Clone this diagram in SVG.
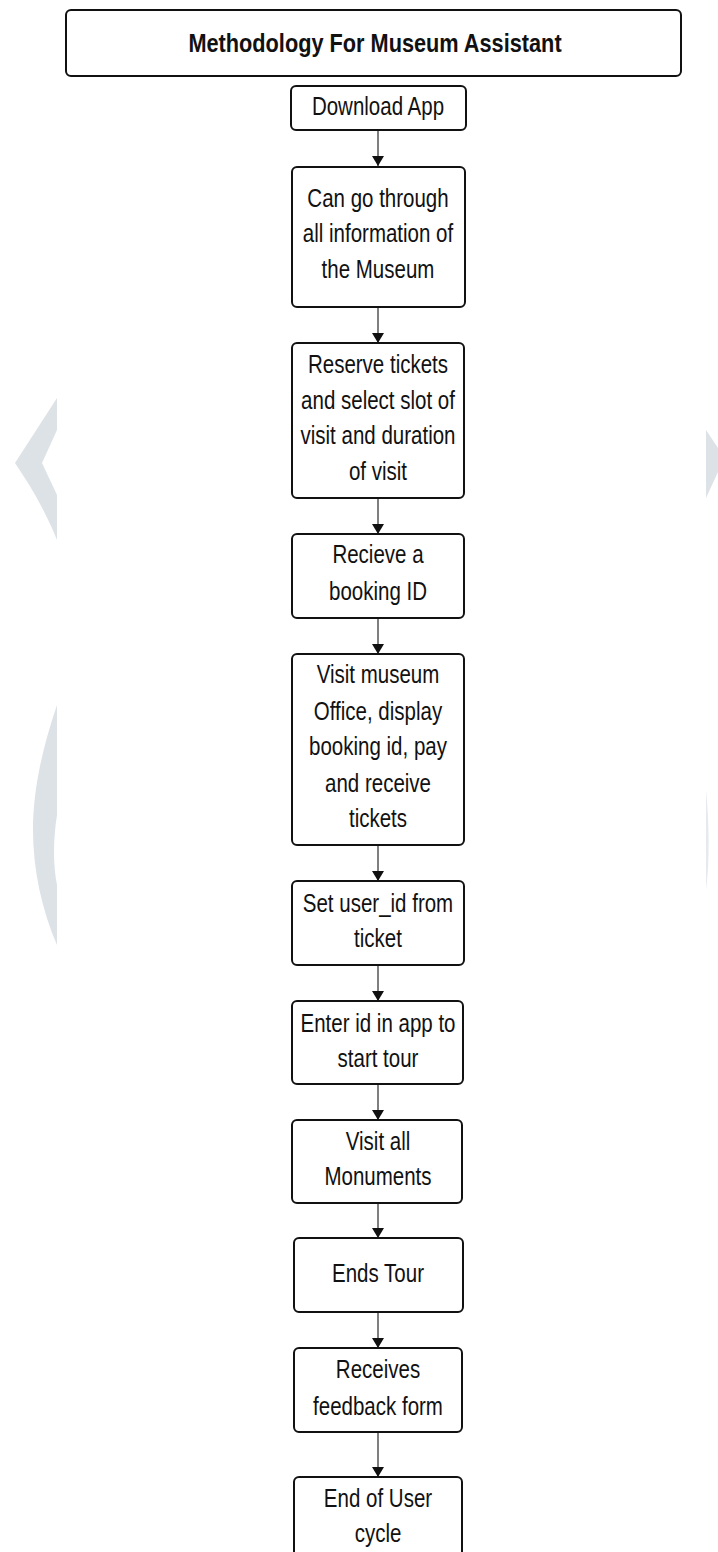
<svg xmlns="http://www.w3.org/2000/svg" width="718" height="1552" viewBox="0 0 718 1552">
<defs>
<style>
.box{fill:#ffffff;stroke:#111111;stroke-width:2}
.t{font-family:"Liberation Sans",Arial,sans-serif;font-size:25px;fill:#111111;text-anchor:middle}
.title{font-family:"Liberation Sans",Arial,sans-serif;font-size:26.5px;font-weight:bold;fill:#111111;text-anchor:middle}
.edge{stroke:#555555;stroke-width:1.5;fill:none}
.wm{fill:#dce2e6}
</style>
<marker id="ah" viewBox="0 0 10 16" refX="10" refY="8" markerWidth="11" markerHeight="16" markerUnits="userSpaceOnUse" orient="auto">
<path d="M0,2 L10,8 L0,14 Z" fill="#111111"/>
</marker>
</defs>
<rect width="718" height="1552" fill="#ffffff"/>
<g id="watermark">
<path class="wm" d="M57,398 L15,463 C30,485 45,510 57,540 L57,495 L42,463 L57,430 Z"/>
<path class="wm" d="M57,705 C40,755 33,795 33,830 C33,870 42,910 57,945 L57,885 C53,865 53,840 57,815 Z"/>
<path class="wm" d="M706,430 L718,448 L718,472 L706,498 Z"/>
<path d="M706,790 C709,820 710,860 706,890 Z" fill="#e6eaed"/>
</g>
<g id="connectors">
<line class="edge" x1="378" y1="130" x2="378" y2="166" marker-end="url(#ah)"/>
<line class="edge" x1="378" y1="307" x2="378" y2="343" marker-end="url(#ah)"/>
<line class="edge" x1="378" y1="498" x2="378" y2="534" marker-end="url(#ah)"/>
<line class="edge" x1="378" y1="618" x2="378" y2="654" marker-end="url(#ah)"/>
<line class="edge" x1="378" y1="845" x2="378" y2="881" marker-end="url(#ah)"/>
<line class="edge" x1="378" y1="965" x2="378" y2="1001" marker-end="url(#ah)"/>
<line class="edge" x1="378" y1="1084" x2="378" y2="1120" marker-end="url(#ah)"/>
<line class="edge" x1="378" y1="1203" x2="378" y2="1238" marker-end="url(#ah)"/>
<line class="edge" x1="378" y1="1312" x2="378" y2="1348" marker-end="url(#ah)"/>
<line class="edge" x1="378" y1="1432" x2="378" y2="1477" marker-end="url(#ah)"/>
</g>
<g id="title">
<rect class="box" x="66" y="10" width="615" height="66" rx="5"/>
<text class="title" transform="translate(375,52) scale(0.82,1)">Methodology For Museum Assistant</text>
</g>
<g id="n1">
<rect class="box" x="291" y="86" width="175" height="44" rx="5"/>
<text class="t" transform="translate(378,115) scale(0.82,1)">Download App</text>
</g>
<g id="n2">
<rect class="box" x="292" y="167" width="173" height="140" rx="5"/>
<text class="t" transform="translate(378,207) scale(0.82,1)">Can go through</text>
<text class="t" transform="translate(378,242) scale(0.82,1)">all information of</text>
<text class="t" transform="translate(378,278) scale(0.82,1)">the Museum</text>
</g>
<g id="n3">
<rect class="box" x="292" y="343" width="172" height="155" rx="5"/>
<text class="t" transform="translate(378,373) scale(0.82,1)">Reserve tickets</text>
<text class="t" transform="translate(378,409) scale(0.82,1)">and select slot of</text>
<text class="t" transform="translate(378,444) scale(0.82,1)">visit and duration</text>
<text class="t" transform="translate(378,480) scale(0.82,1)">of visit</text>
</g>
<g id="n4">
<rect class="box" x="292" y="534" width="172" height="84" rx="5"/>
<text class="t" transform="translate(378,563) scale(0.82,1)">Recieve a</text>
<text class="t" transform="translate(378,600) scale(0.82,1)">booking ID</text>
</g>
<g id="n5">
<rect class="box" x="292" y="654" width="172" height="191" rx="5"/>
<text class="t" transform="translate(378,683) scale(0.82,1)">Visit museum</text>
<text class="t" transform="translate(378,720) scale(0.82,1)">Office, display</text>
<text class="t" transform="translate(378,755) scale(0.82,1)">booking id, pay</text>
<text class="t" transform="translate(378,792) scale(0.82,1)">and receive</text>
<text class="t" transform="translate(378,827) scale(0.82,1)">tickets</text>
</g>
<g id="n6">
<rect class="box" x="292" y="881" width="172" height="84" rx="5"/>
<text class="t" transform="translate(378,912) scale(0.82,1)">Set user_id from</text>
<text class="t" transform="translate(378,947) scale(0.82,1)">ticket</text>
</g>
<g id="n7">
<rect class="box" x="292" y="1001" width="171" height="83" rx="5"/>
<text class="t" transform="translate(378,1032) scale(0.82,1)">Enter id in app to</text>
<text class="t" transform="translate(378,1067) scale(0.82,1)">start tour</text>
</g>
<g id="n8">
<rect class="box" x="292" y="1120" width="170" height="83" rx="5"/>
<text class="t" transform="translate(378,1150) scale(0.82,1)">Visit all</text>
<text class="t" transform="translate(378,1185) scale(0.82,1)">Monuments</text>
</g>
<g id="n9">
<rect class="box" x="294" y="1238" width="169" height="74" rx="5"/>
<text class="t" transform="translate(378,1282) scale(0.82,1)">Ends Tour</text>
</g>
<g id="n10">
<rect class="box" x="294" y="1348" width="168" height="84" rx="5"/>
<text class="t" transform="translate(378,1378) scale(0.82,1)">Receives</text>
<text class="t" transform="translate(378,1415) scale(0.82,1)">feedback form</text>
</g>
<g id="n11">
<rect class="box" x="294" y="1477" width="168" height="100" rx="5"/>
<text class="t" transform="translate(378,1507) scale(0.82,1)">End of User</text>
<text class="t" transform="translate(378,1542) scale(0.82,1)">cycle</text>
</g>
</svg>
